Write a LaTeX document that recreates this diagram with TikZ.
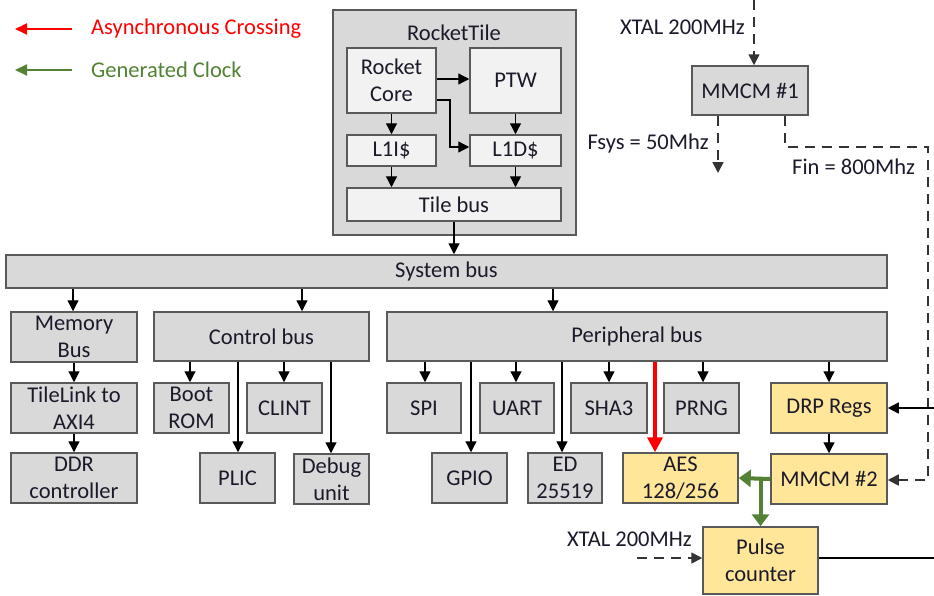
\documentclass[tikz,border=0pt]{standalone}
\usepackage{fontspec}
\setmainfont{Carlito}
\usetikzlibrary{arrows.meta}
\definecolor{bord}{HTML}{595959}
\definecolor{boxg}{HTML}{D9D9D9}
\definecolor{boxl}{HTML}{F2F2F2}
\definecolor{boxy}{HTML}{FFE699}
\definecolor{txt}{HTML}{1A1A2A}
\definecolor{myred}{HTML}{FF0000}
\definecolor{mygreen}{HTML}{548235}
\tikzset{
 fnt/.style={font=\fontsize{22.5}{27}\selectfont},
 box/.style={draw=bord, line width=1.5pt, fill=boxg, inner sep=0pt, align=center, text=txt, fnt},
 lbox/.style={box, fill=boxl},
 ybox/.style={box, fill=boxy},
 arr/.style={line width=1.3pt, -{Triangle[length=11pt,width=11pt]}},
 dsh/.style={line width=1.6pt, draw=black!80, dash pattern=on 10pt off 7pt},
 darr/.style={dsh, -{Triangle[length=11pt,width=11pt]}},
 redarr/.style={line width=3.5pt, myred, -{Triangle[length=15pt,width=15pt]}},
 grnarr/.style={line width=4pt, mygreen, -{Triangle[length=12pt,width=17pt]}},
 lbl/.style={text=txt, inner sep=0pt, fnt},
}
\newcommand\bx[7][box]{\node[#1, minimum width={(#5-#3)*1pt}, minimum height={(#6-#4)*1pt}] (#2) at ({(#3+#5)/2},{(#4+#6)/2}) {#7};}
\begin{document}
\begin{tikzpicture}[x=1pt,y=-1pt]
\useasboundingbox[fill=white] (0,0) rectangle (934,595);
% legend
\coordinate (la1) at (72,29); \coordinate (la2) at (15,29);
\coordinate (lb1) at (72,70); \coordinate (lb2) at (15,70);
\draw[line width=1.8pt, myred, -{Triangle[length=12pt,width=11pt]}] (la1) -- (la2);
\draw[line width=1.8pt, mygreen, -{Triangle[length=12pt,width=11pt]}] (lb1) -- (lb2);
\node[lbl, text=myred, anchor=west] (lga) at (91,29) {Asynchronous Crossing};
\node[lbl, text=mygreen, anchor=west] (lgb) at (91,70) {Generated Clock};
% RocketTile
\bx{rt}{333}{10}{576}{235}{}
\node[lbl] (rtt) at (454,33) {RocketTile};
\bx[lbox]{core}{347}{48}{436}{113}{Rocket\\Core}
\bx[lbox]{ptw}{470}{48}{561}{113}{PTW}
\bx[lbox]{l1i}{347}{135}{436}{166}{L1I\$}
\bx[lbox]{l1d}{470}{135}{561}{166}{L1D\$}
\bx[lbox]{tile}{347}{188}{561}{221}{Tile bus}
\draw[arr] (core.east |- 0,79) -- (ptw.west |- 0,79);
\draw[arr] (core.east |- 0,100) -| (450,147) -- (l1d.west |- 0,147);
\draw[arr] (core) -- (l1i);
\draw[arr] (ptw) -- (l1d);
\draw[arr] (l1i) -- (l1i |- tile.north);
\draw[arr] (l1d) -- (l1d |- tile.north);
% system bus
\bx{sys}{6}{255}{887}{288}{System bus}
\draw[arr] (tile.south) -- (tile.south |- sys.north);
% memory column
\bx{mem}{11}{312}{137}{362}{Memory\\Bus}
\bx{tl}{11}{383}{137}{433}{TileLink to\\AXI4}
\bx{ddr}{11}{453}{137}{503}{DDR\\controller}
\draw[arr] (73,0 |- sys.south) -- (73,0 |- mem.north);
\draw[arr] (mem) -- (tl);
\draw[arr] (tl) -- (ddr);
% control bus
\bx{ctl}{154}{312}{369}{361}{Control bus}
\bx{boot}{154}{383}{229}{433}{Boot\\ROM}
\bx{clint}{247}{383}{322}{433}{CLINT}
\bx{plic}{200}{453}{275}{503}{PLIC}
\bx{dbg}{294}{454}{369}{504}{Debug\\unit}
\draw[arr] (302,0 |- sys.south) -- (302,0 |- ctl.north);
\draw[arr] (190,0 |- ctl.south) -- (190,0 |- boot.north);
\draw[arr] (284,0 |- ctl.south) -- (284,0 |- clint.north);
\draw[arr] (238,0 |- ctl.south) -- (238,0 |- plic.north);
\draw[arr] (331,0 |- ctl.south) -- (331,0 |- dbg.north);
% peripheral bus
\bx{per}{387}{312}{887}{361}{Peripheral bus}
\bx{spi}{387}{383}{461}{433}{SPI}
\bx{uart}{480}{383}{554}{433}{UART}
\bx{sha}{571}{383}{647}{433}{SHA3}
\bx{prng}{664}{383}{739}{433}{PRNG}
\bx{gpio}{432}{453}{507}{503}{GPIO}
\bx{ed}{528}{453}{602}{503}{ED\\25519}
\bx[ybox]{aes}{623}{453}{738}{503}{AES\\128/256}
\bx[ybox]{drp}{771}{383}{887}{433}{DRP Regs}
\bx[ybox]{mm2}{771}{454}{887}{504}{MMCM \#2}
\bx[ybox]{pulse}{703}{527}{818}{594}{Pulse\\counter}
\draw[arr] (553,0 |- sys.south) -- (553,0 |- per.north);
\draw[arr] (425,0 |- per.south) -- (425,0 |- spi.north);
\draw[arr] (471,0 |- per.south) -- (471,0 |- gpio.north);
\draw[arr] (516,0 |- per.south) -- (516,0 |- uart.north);
\draw[arr] (562,0 |- per.south) -- (562,0 |- ed.north);
\draw[arr] (609,0 |- per.south) -- (609,0 |- sha.north);
\draw[arr] (703,0 |- per.south) -- (703,0 |- prng.north);
\draw[arr] (829,0 |- per.south) -- (829,0 |- drp.north);
\draw[arr] (drp) -- (mm2);
\draw[redarr] (655,0 |- per.south) -- (655,0 |- aes.north);
\draw[grnarr] (mm2.west) -- (aes.east);
\draw[grnarr] (pulse.north |- mm2.west) -- (pulse.north);
% MMCM #1 and clocks
\bx{mm1}{692}{66}{808}{115}{MMCM \#1}
\coordinate (xt) at (754,0);
\draw[darr] (xt) -- (xt |- mm1.north);
\node[lbl, anchor=east] (xtl) at (745,27) {XTAL 200MHz};
\coordinate (fs) at (718,173);
\draw[darr] (fs |- mm1.south) -- (fs);
\node[lbl, anchor=east] (fsl) at (709,143) {Fsys = 50Mhz};
\coordinate (fa) at (785,147); \coordinate (fb) at (928,147); \coordinate (fc) at (928,480);
\draw[darr] (fa |- mm1.south) -- (fa) -- (fb) -- (fc) -- (fc -| mm2.east);
\node[lbl, anchor=west] (fil) at (792,167) {Fin = 800Mhz};
\coordinate (dr) at (934,408);
\draw[arr] (dr) -- (dr -| drp.east);
\coordinate (pr) at (934,558);
\draw[line width=1.3pt] (pr -| pulse.east) -- (pr);
\coordinate (xl) at (637,558);
\draw[darr] (xl) -- (xl -| pulse.west);
\node[lbl, anchor=east] (xl2) at (692,539) {XTAL 200MHz};
\end{tikzpicture}
\end{document}
